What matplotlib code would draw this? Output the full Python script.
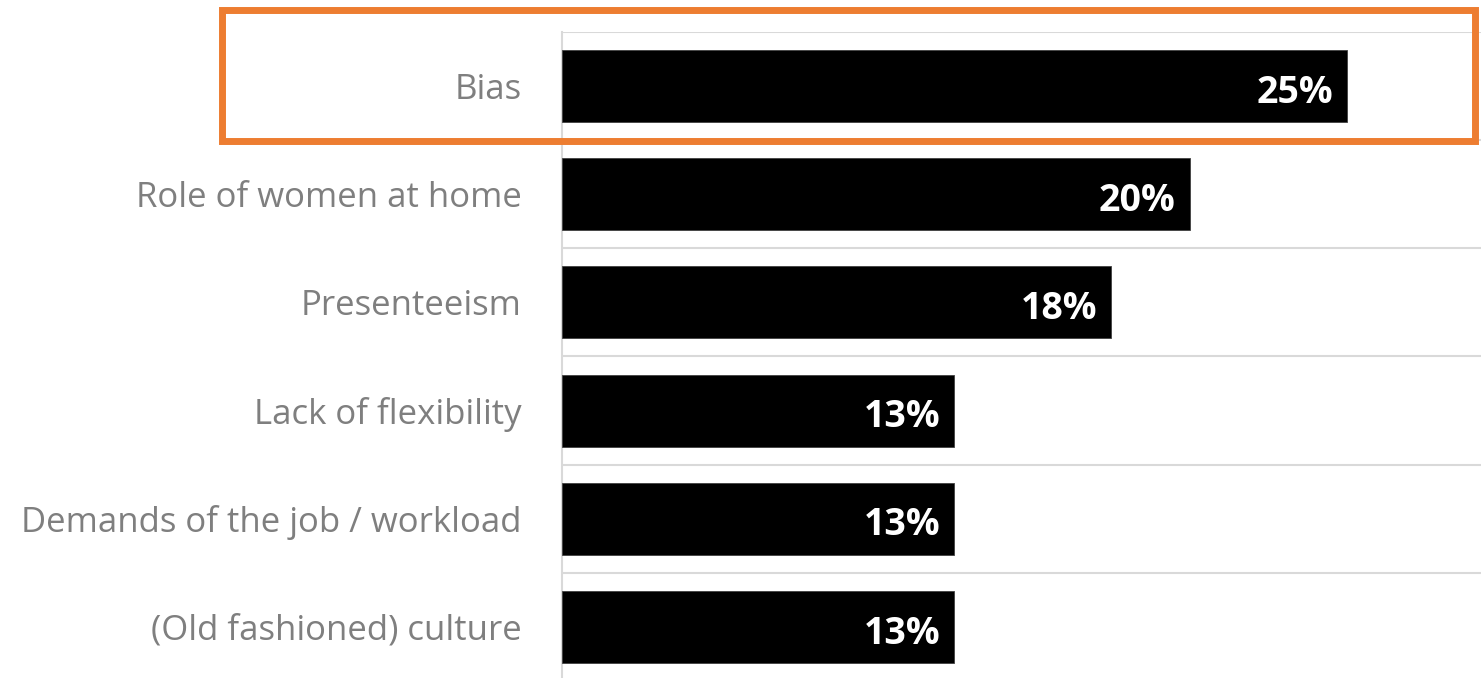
import matplotlib.pyplot as plt
from matplotlib.patches import Rectangle

categories = ["Bias", "Role of women at home", "Presenteeism", "Lack of flexibility",
              "Demands of the job / workload", "(Old fashioned) culture"]
values = [25, 20, 17.5, 12.5, 12.5, 12.5]
value_labels = ["25%", "20%", "18%", "13%", "13%", "13%"]

W, H, DPI = 1481, 678, 100
plt.rcParams["font.family"] = ["Open Sans", "DejaVu Sans"]

fig = plt.figure(figsize=(W / DPI, H / DPI), dpi=DPI)
ax = fig.add_axes([562 / W, 0, 1 - 562 / W, 1 - 32 / H])

ypos = list(range(len(categories)))
ax.barh(ypos, values, height=0.665, color="black", edgecolor="#404040", linewidth=0.6, zorder=3)

for y, v, lab in zip(ypos, values, value_labels):
    ax.text(v - 0.45, y + 0.02, lab, ha="right", va="center_baseline", color="white",
            fontsize=27, fontweight="bold", zorder=4)

ax.set_xlim(0, 29.27)
ax.set_ylim(len(categories) - 0.5 - 3 / 108.2, -0.5)

# gridlines between categories
for i in range(len(categories)):
    ax.axhline(i - 0.5, color="#d9d9d9", linewidth=1.5, zorder=1)

ax.set_yticks(ypos)
ax.set_yticklabels(categories, fontsize=25, color="#7f7f7f")
ax.tick_params(axis="y", length=0, pad=29)
ax.set_xticks([])
for s in ["top", "right", "bottom"]:
    ax.spines[s].set_visible(False)
ax.spines["left"].set_color("#d9d9d9")
ax.spines["left"].set_linewidth(1.5)

# highlight box around the top row
fig.patches.append(Rectangle((221.5 / W, 1 - 140.5 / H), (1475 - 221.5) / W, (140.5 - 9.5) / H,
                             transform=fig.transFigure, fill=False,
                             edgecolor="#ED7D31", linewidth=5, zorder=10))

fig.savefig("out.png", dpi=DPI)
